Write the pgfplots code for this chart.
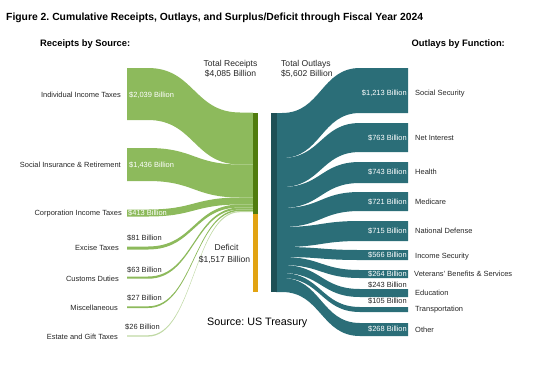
\documentclass[border=0pt]{standalone}
\usepackage{pgfplots}
\pgfplotsset{compat=1.18}
\usepackage{fontspec}
\setmainfont{Liberation Sans}
\frenchspacing
\definecolor{flowg}{RGB}{141,186,92}
\definecolor{barg}{RGB}{80,124,14}
\definecolor{gold}{RGB}{226,163,18}
\definecolor{teal}{RGB}{43,110,120}
\definecolor{tealdk}{RGB}{30,80,86}
\definecolor{txt}{RGB}{38,38,38}
% left ribbon: colour, node top, node bottom, bar top, bar bottom
\newcommand{\lrib}[5]{\fill[#1] (axis cs:127,#2) -- (axis cs:148,#2) .. controls (axis cs:194,#2) and (axis cs:194,#4) .. (axis cs:240,#4) -- (axis cs:253,#4) -- (axis cs:253,#5) -- (axis cs:240,#5) .. controls (axis cs:194,#5) and (axis cs:194,#3) .. (axis cs:148,#3) -- (axis cs:127,#3) -- cycle;}
% right ribbon: colour, bar top, bar bottom, node top, node bottom
\newcommand{\rrib}[5]{\fill[#1] (axis cs:276,#2) -- (axis cs:282,#2) .. controls (axis cs:321,#2) and (axis cs:321,#4) .. (axis cs:360,#4) -- (axis cs:408,#4) -- (axis cs:408,#5) -- (axis cs:360,#5) .. controls (axis cs:321,#5) and (axis cs:321,#3) .. (axis cs:282,#3) -- (axis cs:276,#3) -- cycle;}
\tikzset{
  lbl/.style={font=\fontsize{7.5}{9}\selectfont, inner sep=0pt, text height=5.4bp, text depth=0pt, text=txt},
  wlbl/.style={lbl, text=white},
  mid/.style={font=\fontsize{8.6}{10}\selectfont, inner sep=0pt, text height=6.2bp, text depth=0pt, text=txt},
}
\begin{document}
\begin{tikzpicture}
\begin{axis}[scale only axis, width=550bp, height=373bp,
  xmin=0, xmax=550, ymin=0, ymax=373, y dir=reverse,
  hide axis, clip=false]
\path (axis cs:0,0) (axis cs:550,373);
% ---- receipts (values in $ billion: 2039, 1436, 413, 81, 63, 27, 26)
\lrib{flowg}{68}{120}{112.5}{164.5}
\lrib{flowg}{148}{181}{164.5}{197.5}
\lrib{flowg}{209.5}{216.5}{197.5}{204.5}
\lrib{flowg}{246.5}{249.5}{204.5}{207.5}
\lrib{flowg}{276.5}{278.7}{207.5}{209.5}
\lrib{flowg}{306.3}{308}{209.5}{211}
\lrib{flowg!55}{335.3}{336.6}{211}{212.2}
% ---- outlays (1213, 763, 743, 721, 715, 566, 264, 243, 105, 268)
\rrib{teal}{113}{158}{68}{113}
\rrib{teal}{158}{187}{123}{152}
\rrib{teal}{187}{208}{162}{183}
\rrib{teal}{208}{227}{192}{211}
\rrib{teal}{227}{247}{221}{241}
\rrib{teal}{247}{257}{250}{260}
\rrib{teal}{257}{265}{270}{278}
\rrib{teal}{265}{273}{289}{297}
\rrib{teal}{273}{278}{307}{312}
\rrib{teal}{278}{292}{323}{336}
% ---- centre bars
\fill[barg] (axis cs:253,112.5) rectangle (axis cs:258.3,214);
\fill[gold] (axis cs:253,214) rectangle (axis cs:258.3,292);
\fill[tealdk] (axis cs:271.3,112.5) rectangle (axis cs:276.7,292);
% ---- titles
\node[anchor=west, inner sep=0pt, font=\fontsize{10.4}{12}\bfseries] at (axis cs:6,18) {Figure 2. Cumulative Receipts, Outlays, and Surplus/Deficit through Fiscal Year 2024};
\node[anchor=west, inner sep=0pt, font=\fontsize{9.4}{11}\bfseries] at (axis cs:40,44.5) {Receipts by Source:};
\node[anchor=west, inner sep=0pt, font=\fontsize{9.4}{11}\bfseries] at (axis cs:411.5,44.5) {Outlays by Function:};
\node[mid] at (axis cs:230.5,63) {Total Receipts};
\node[mid] at (axis cs:230.5,73) {\$4,085 Billion};
\node[mid, anchor=west] at (axis cs:281,63) {Total Outlays};
\node[mid, anchor=west] at (axis cs:281,73) {\$5,602 Billion};
\node[mid] at (axis cs:226.5,247) {Deficit};
\node[mid] at (axis cs:224.5,259) {\$1,517 Billion};
\node[anchor=west, inner sep=0pt, font=\fontsize{10.8}{12}\selectfont, text height=7.7bp, text depth=0pt] at (axis cs:207,322) {Source: US Treasury};
% ---- left labels
\node[lbl, anchor=east] at (axis cs:121,95) {Individual Income Taxes};
\node[lbl, anchor=east] at (axis cs:121,165) {Social Insurance \& Retirement};
\node[lbl, anchor=east] at (axis cs:122,213) {Corporation Income Taxes};
\node[lbl, anchor=east] at (axis cs:119,247.5) {Excise Taxes};
\node[lbl, anchor=east] at (axis cs:119,278.5) {Customs Duties};
\node[lbl, anchor=east] at (axis cs:118,308) {Miscellaneous};
\node[lbl, anchor=east] at (axis cs:118,336.5) {Estate and Gift Taxes};
\node[wlbl, anchor=west] at (axis cs:129,95) {\$2,039 Billion};
\node[wlbl, anchor=west] at (axis cs:129,165) {\$1,436 Billion};
\node[wlbl, anchor=west] at (axis cs:128,213) {\$413 Billion};
\node[lbl, anchor=west] at (axis cs:127,238) {\$81 Billion};
\node[lbl, anchor=west] at (axis cs:127,270) {\$63 Billion};
\node[lbl, anchor=west] at (axis cs:127,297.5) {\$27 Billion};
\node[lbl, anchor=west] at (axis cs:125,327) {\$26 Billion};
% ---- right labels
\node[lbl, anchor=west] at (axis cs:415,93) {Social Security};
\node[lbl, anchor=west] at (axis cs:415,138) {Net Interest};
\node[lbl, anchor=west] at (axis cs:415,172) {Health};
\node[lbl, anchor=west] at (axis cs:415,202) {Medicare};
\node[lbl, anchor=west] at (axis cs:415,231) {National Defense};
\node[lbl, anchor=west] at (axis cs:415,256) {Income Security};
\node[lbl, anchor=west] at (axis cs:414,274) {Veterans' Benefits \& Services};
\node[lbl, anchor=west] at (axis cs:415,293) {Education};
\node[lbl, anchor=west] at (axis cs:415,309) {Transportation};
\node[lbl, anchor=west] at (axis cs:415,330) {Other};
\node[wlbl, anchor=east] at (axis cs:407,93) {\$1,213 Billion};
\node[wlbl, anchor=east] at (axis cs:407,138) {\$763 Billion};
\node[wlbl, anchor=east] at (axis cs:407,172) {\$743 Billion};
\node[wlbl, anchor=east] at (axis cs:407,202) {\$721 Billion};
\node[wlbl, anchor=east] at (axis cs:407,231) {\$715 Billion};
\node[wlbl, anchor=east] at (axis cs:407,255) {\$566 Billion};
\node[wlbl, anchor=east] at (axis cs:407,274) {\$264 Billion};
\node[lbl, anchor=east] at (axis cs:407,285) {\$243 Billion};
\node[lbl, anchor=east] at (axis cs:407,301) {\$105 Billion};
\node[wlbl, anchor=east] at (axis cs:407,329) {\$268 Billion};
\end{axis}
\end{tikzpicture}
\end{document}
